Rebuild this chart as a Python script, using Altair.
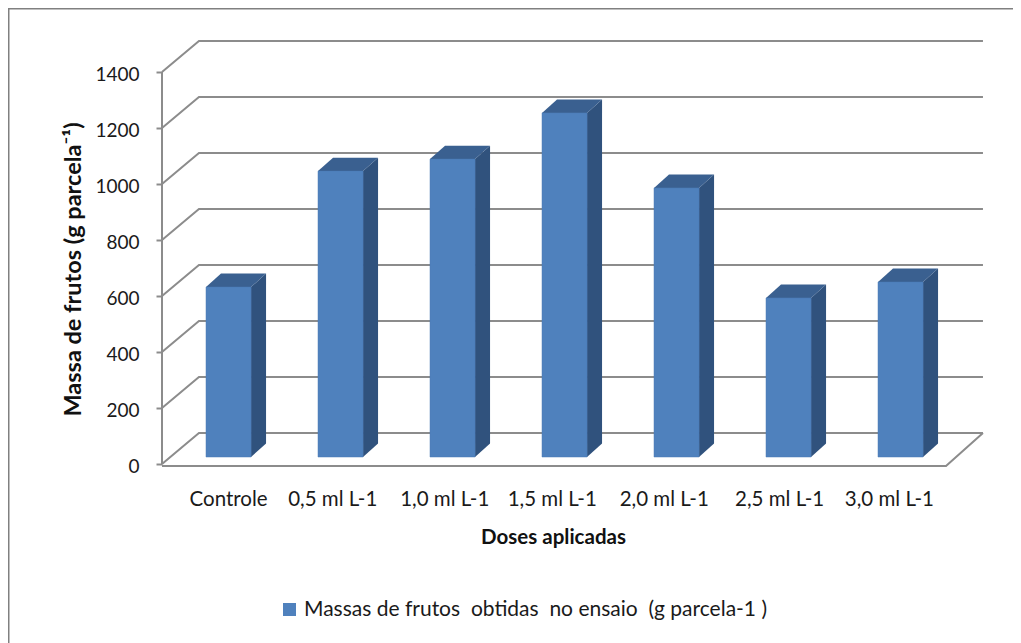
import json
import altair as alt
import pandas as pd

categories = ["Controle", "0,5 ml L-1", "1,0 ml L-1", "1,5 ml L-1", "2,0 ml L-1", "2,5 ml L-1", "3,0 ml L-1"]
values = [607, 1021, 1064, 1229, 961, 568, 625]
label_pos = [0.59, 1.52, 2.52, 3.48, 4.48, 5.51, 6.49]
y_ticks = [0, 200, 400, 600, 800, 1000, 1200, 1400]
series_name = "Massas de frutos \u00a0obtidas \u00a0no ensaio \u00a0(g parcela-1 )"
x_title = "Doses aplicadas"
y_title = "Massa de frutos (g parcela\u207b\u00b9)"

W, H = 1005, 635
PX = 112.0
PY = 0.28
X0, Y0 = 162 - 8, 464 - 8
xdom = [-X0 / PX, (W - X0) / PX]
ydom = [-(H - Y0) / PY, Y0 / PY]
xs = alt.Scale(domain=xdom, nice=False, zero=False)
ys = alt.Scale(domain=ydom, nice=False, zero=False)

WALL_DX, WALL_DY = 0.33, 110.7
BAR_L, BAR_R = 0.393, 0.795
BAR_DX, BAR_DY = 0.134, 48
BASE = 25
N = len(categories)
GRID = "#8c8c8c"

walls = []
for v in y_ticks:
    walls += [
        dict(level=v, o=0, x=0, y=v),
        dict(level=v, o=1, x=WALL_DX, y=v + WALL_DY),
        dict(level=v, o=2, x=N + WALL_DX, y=v + WALL_DY),
    ]
floor = [
    dict(o=0, x=0, y=-7), dict(o=1, x=N, y=-7), dict(o=2, x=N + WALL_DX, y=WALL_DY),
]
side, top, front = [], [], []
for i, (c, v) in enumerate(zip(categories, values)):
    l, r = i + BAR_L, i + BAR_R
    side += [
        dict(c=c, x=r, y=BASE + v, y2=BASE),
        dict(c=c, x=r + BAR_DX, y=BASE + v + BAR_DY, y2=BASE + BAR_DY),
    ]
    top += [
        dict(c=c, x=l, x2=r, y=BASE + v),
        dict(c=c, x=l + BAR_DX, x2=r + BAR_DX, y=BASE + v + BAR_DY),
    ]
    front.append(dict(c=c, x=l, x2=r, y=BASE + v, y2=BASE, s=series_name))

X = lambda f: alt.X(f, type="quantitative", scale=xs)
Y = lambda f: alt.Y(f, type="quantitative", scale=ys)

wall_layer = alt.Chart(pd.DataFrame(walls)).mark_line(color=GRID, strokeWidth=2).encode(
    x=X("x"), y=Y("y"), detail="level:N", order="o:Q")
floor_layer = alt.Chart(pd.DataFrame(floor)).mark_line(color=GRID, strokeWidth=2).encode(
    x=X("x"), y=Y("y"), order="o:Q")

x_axis = alt.Axis(
    values=label_pos,
    labelExpr="%s[indexof(%s, datum.value)]" % (json.dumps(categories), json.dumps(label_pos)),
    offset=-(H - Y0), ticks=False, domain=False, grid=False, labelPadding=25,
    labelFont="Lato", labelFontSize=20.5, labelColor="#1a1a1a", labelOverlap=False,
    titleFont="Lato", titleFontSize=20.5, titleFontWeight="bold",
    titleColor="#111111", titleX=545, titleY=63, titleAnchor="middle",
)
y_axis = alt.Axis(
    values=y_ticks, format="d", offset=-X0, domain=False, grid=False,
    tickColor=GRID, tickWidth=2, tickSize=6, labelPadding=17, labelOffset=2,
    labelFont="Lato", labelFontSize=19, labelColor="#1a1a1a",
    titleFont="Lato", titleFontSize=23.5,
    titleFontWeight="bold", titleColor="#111111", titleAngle=-90, titleX=-77, titleY=261,
    titleAnchor="middle",
)
axis_layer = alt.Chart(pd.DataFrame({"x": [0, 0], "y": [0, 1400]})).mark_line(
    color=GRID, strokeWidth=2).encode(
    x=alt.X("x:Q", scale=xs, axis=x_axis, title=x_title),
    y=alt.Y("y:Q", scale=ys, axis=y_axis, title=y_title))

frame_left = alt.Chart(pd.DataFrame({"x": [xdom[0]], "y": [ydom[0]], "y2": [ydom[1]]})).mark_rule(
    color="#808080", strokeWidth=3).encode(x=X("x"), y=Y("y"), y2="y2")
frame_top = alt.Chart(pd.DataFrame({"y": [ydom[1]], "x": [xdom[0]], "x2": [xdom[1]]})).mark_rule(
    color="#808080", strokeWidth=3).encode(y=Y("y"), x=X("x"), x2="x2")

side_layer = alt.Chart(pd.DataFrame(side)).mark_area(color="#30527d").encode(
    x=X("x"), y=Y("y"), y2="y2", detail="c:N")
top_layer = alt.Chart(pd.DataFrame(top)).mark_area(color="#3a6090", orient="horizontal").encode(
    x=X("x"), x2="x2", y=Y("y"), detail="c:N")
front_layer = alt.Chart(pd.DataFrame(front)).mark_rect(stroke="#4a7ab5", strokeWidth=0.5).encode(
    x=X("x"), x2="x2", y=Y("y"), y2="y2",
    color=alt.Color("s:N", scale=alt.Scale(range=["#4f81bd"]), legend=alt.Legend(
        orient="none", legendX=271, legendY=591, title=None, symbolType="square", symbolSize=170,
        symbolStrokeWidth=0, labelFont="Lato", labelFontSize=21, labelColor="#1a1a1a", labelLimit=700,
        symbolOffset=0)),
)

chart = alt.layer(
    axis_layer, frame_left, frame_top, wall_layer, floor_layer, side_layer, top_layer, front_layer
).properties(
    width=W, height=H, padding=0, autosize=alt.AutoSizeParams(type="none"), background="white"
).configure_view(stroke=None)

chart.save("out.html", embed_options={"renderer": "svg", "actions": False})
